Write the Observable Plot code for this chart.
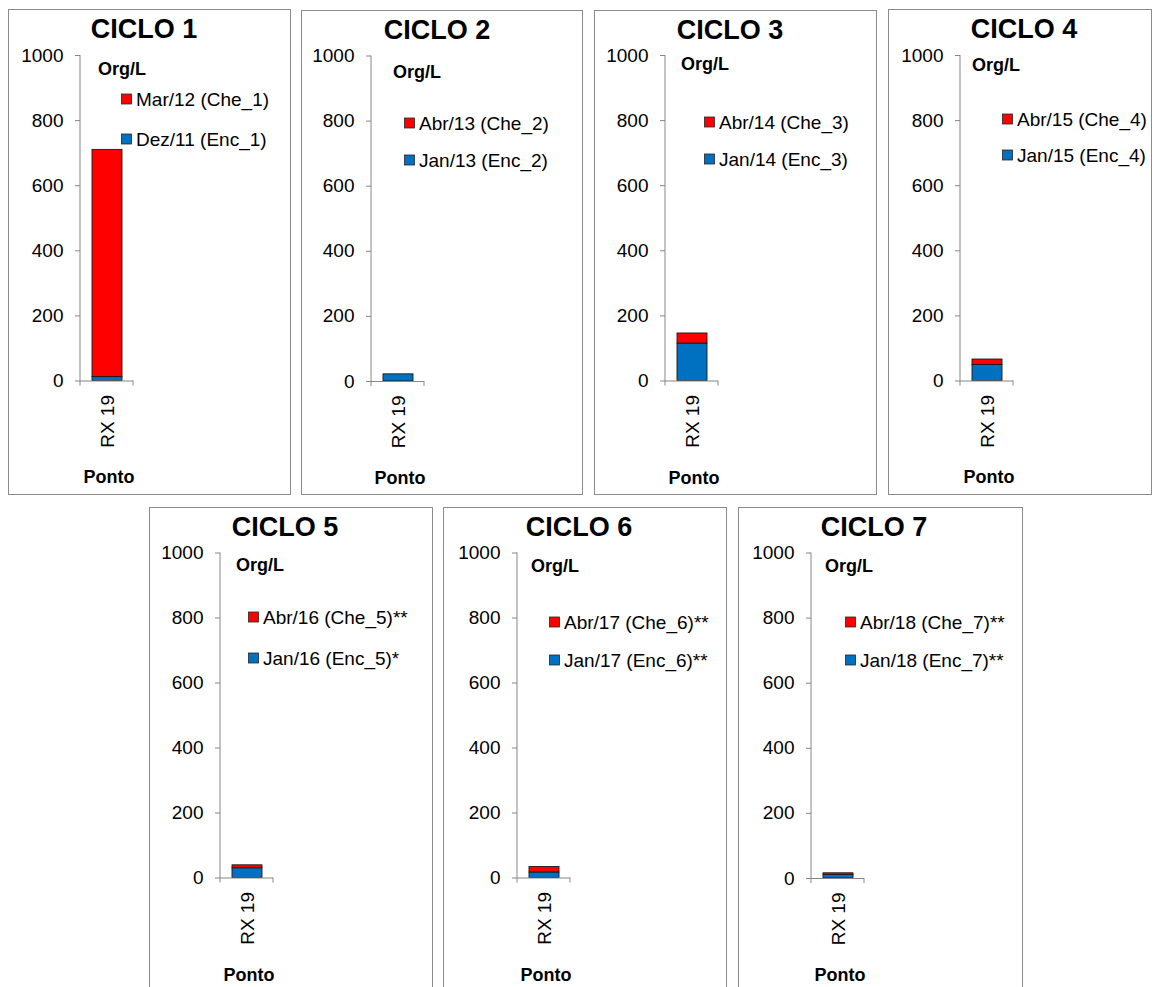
<!DOCTYPE html>
<html>
<head>
<meta charset="utf-8">
<script src="https://cdn.jsdelivr.net/npm/d3@7"></script>
<script src="https://cdn.jsdelivr.net/npm/@observablehq/plot@0.6"></script>
<style>
  html, body { margin: 0; padding: 0; background: #fff; }
  body { width: 1159px; height: 987px; overflow: hidden; position: relative; font-family: "Liberation Sans", Arial, sans-serif; }
  .panel { position: absolute; outline: 1px solid #8c8c8c; outline-offset: -1px; background: #fff; }
  .panel svg { position: absolute; left: 0; top: 0; overflow: visible; }
</style>
</head>
<body>
<div id="root"></div>
<script>
// ---- data ----
const ponto = ["RX 19"];
const ciclos = ["CICLO 1", "CICLO 2", "CICLO 3", "CICLO 4", "CICLO 5", "CICLO 6", "CICLO 7"];
const cheLabels = ["Mar/12 (Che_1)", "Abr/13 (Che_2)", "Abr/14 (Che_3)", "Abr/15 (Che_4)", "Abr/16 (Che_5)**", "Abr/17 (Che_6)**", "Abr/18 (Che_7)**"];
const encLabels = ["Dez/11 (Enc_1)", "Jan/13 (Enc_2)", "Jan/14 (Enc_3)", "Jan/15 (Enc_4)", "Jan/16 (Enc_5)*", "Jan/17 (Enc_6)**", "Jan/18 (Enc_7)**"];
const encValues = [12, 22, 115, 49, 30, 17, 11];
const cheValues = [698, 0, 31, 17, 9, 17, 5];
const yTicks = [0, 200, 400, 600, 800, 1000];
const yLabel = "Org/L";
const xLabel = "Ponto";

// ---- layout (positions only) ----
const layout = [
  {left: 8,   top: 9,   w: 283, h: 486, axis: 72, yTop: 55,    yZero: 380.5, org: [90, 66], leg: [113, 90, 130]},
  {left: 301, top: 10,  w: 282, h: 485, axis: 70, yTop: 55.5,  yZero: 381,   org: [92, 68], leg: [103, 113, 150]},
  {left: 594, top: 10,  w: 283, h: 485, axis: 71, yTop: 55,    yZero: 380.5, org: [87, 60], leg: [110, 112, 149]},
  {left: 888, top: 9,   w: 264, h: 486, axis: 72, yTop: 55,    yZero: 380.5, org: [84, 62], leg: [114, 110, 146]},
  {left: 149, top: 507, w: 284, h: 487, axis: 71, yTop: 552.5, yZero: 877.5, org: [87, 64], leg: [99, 110, 151]},
  {left: 443, top: 507, w: 284, h: 487, axis: 74, yTop: 552.5, yZero: 877.5, org: [88, 65], leg: [106, 115, 153]},
  {left: 738, top: 507, w: 285, h: 487, axis: 73, yTop: 552.5, yZero: 878,   org: [87, 65], leg: [107, 115, 153]}
];
const FONT = '"Liberation Sans", Arial, sans-serif';
const RED = "#FF0000", BLUE = "#0070C0", GRID = "#868686";
const plotW = 53;

const root = document.getElementById("root");
ciclos.forEach((ciclo, i) => {
  const L = layout[i];
  const data = [
    {ponto: ponto[0], periodo: "Enc", value: encValues[i]},
    {ponto: ponto[0], periodo: "Che", value: cheValues[i]}
  ];
  const div = document.createElement("div");
  div.className = "panel";
  div.style.left = L.left + "px";
  div.style.top = L.top + "px";
  div.style.width = L.w + "px";
  div.style.height = L.h + "px";
  root.appendChild(div);

  const mt = L.yTop - L.top;
  const mb = L.h - (L.yZero - L.top);
  const chart = Plot.plot({
    width: L.w,
    height: L.h,
    marginLeft: L.axis,
    marginRight: L.w - L.axis - plotW,
    marginTop: mt,
    marginBottom: mb,
    style: {fontFamily: FONT, fontSize: "19px", color: "black", background: "transparent", overflow: "visible"},
    x: {domain: ponto, padding: 0.28},
    y: {domain: [0, 1000]},
    color: {domain: ["Enc", "Che"], range: [BLUE, RED]},
    marks: [
      Plot.axisY({ticks: yTicks, tickSize: 5, tickPadding: 12, stroke: GRID, fill: "black", label: null, tickFormat: d3.format("d")}),
      Plot.axisX({tickSize: 0, tickPadding: 14, tickRotate: -90, fill: "black", label: null}),
      Plot.barY(data, {x: "ponto", y: "value", fill: "periodo", stroke: "#1a1a1a", strokeWidth: 0.9}),
      Plot.ruleY([0], {stroke: GRID})
    ]
  });
  div.appendChild(chart);

  const svg = d3.select(chart);
  const xs = chart.scale("x"), ys = chart.scale("y");
  const x0 = xs.range[0], x1 = xs.range[1];
  const yb = ys.apply(0), yt = ys.apply(1000);
  const g = svg.append("g").attr("font-family", FONT).attr("text-anchor", "start");
  // y axis line
  g.append("line").attr("x1", x0).attr("x2", x0).attr("y1", yt).attr("y2", yb + 5).attr("stroke", GRID);
  // category boundary tick
  g.append("line").attr("x1", x1).attr("x2", x1).attr("y1", yb).attr("y2", yb + 5).attr("stroke", GRID);

  // title
  g.append("text").attr("x", 136).attr("y", 29).attr("text-anchor", "middle")
    .attr("font-size", 27).attr("font-weight", "bold").attr("fill", "black").text(ciclo);
  // y label
  g.append("text").attr("x", L.org[0]).attr("y", L.org[1]).attr("text-anchor", "start")
    .attr("font-size", 18).attr("font-weight", "bold").attr("fill", "black").text(yLabel);
  // legend
  const items = [[cheLabels[i], RED, L.leg[1]], [encLabels[i], BLUE, L.leg[2]]];
  items.forEach(([lab, col, cy]) => {
    g.append("rect").attr("x", L.leg[0] + 0.5).attr("y", cy - 5).attr("width", 10).attr("height", 10)
      .attr("fill", col).attr("stroke", "#262626").attr("stroke-width", 0.8);
    g.append("text").attr("x", L.leg[0] + 15).attr("y", cy).attr("dy", "0.36em").attr("text-anchor", "start")
      .attr("font-size", 19).attr("fill", "black").text(lab);
  });
  // x label
  const cx = xs.apply(ponto[0]) + xs.bandwidth / 2;
  g.append("text").attr("x", cx + 2).attr("y", 474).attr("text-anchor", "middle")
    .attr("font-size", 18).attr("font-weight", "bold").attr("fill", "black").text(xLabel);
});
</script>
</body>
</html>
